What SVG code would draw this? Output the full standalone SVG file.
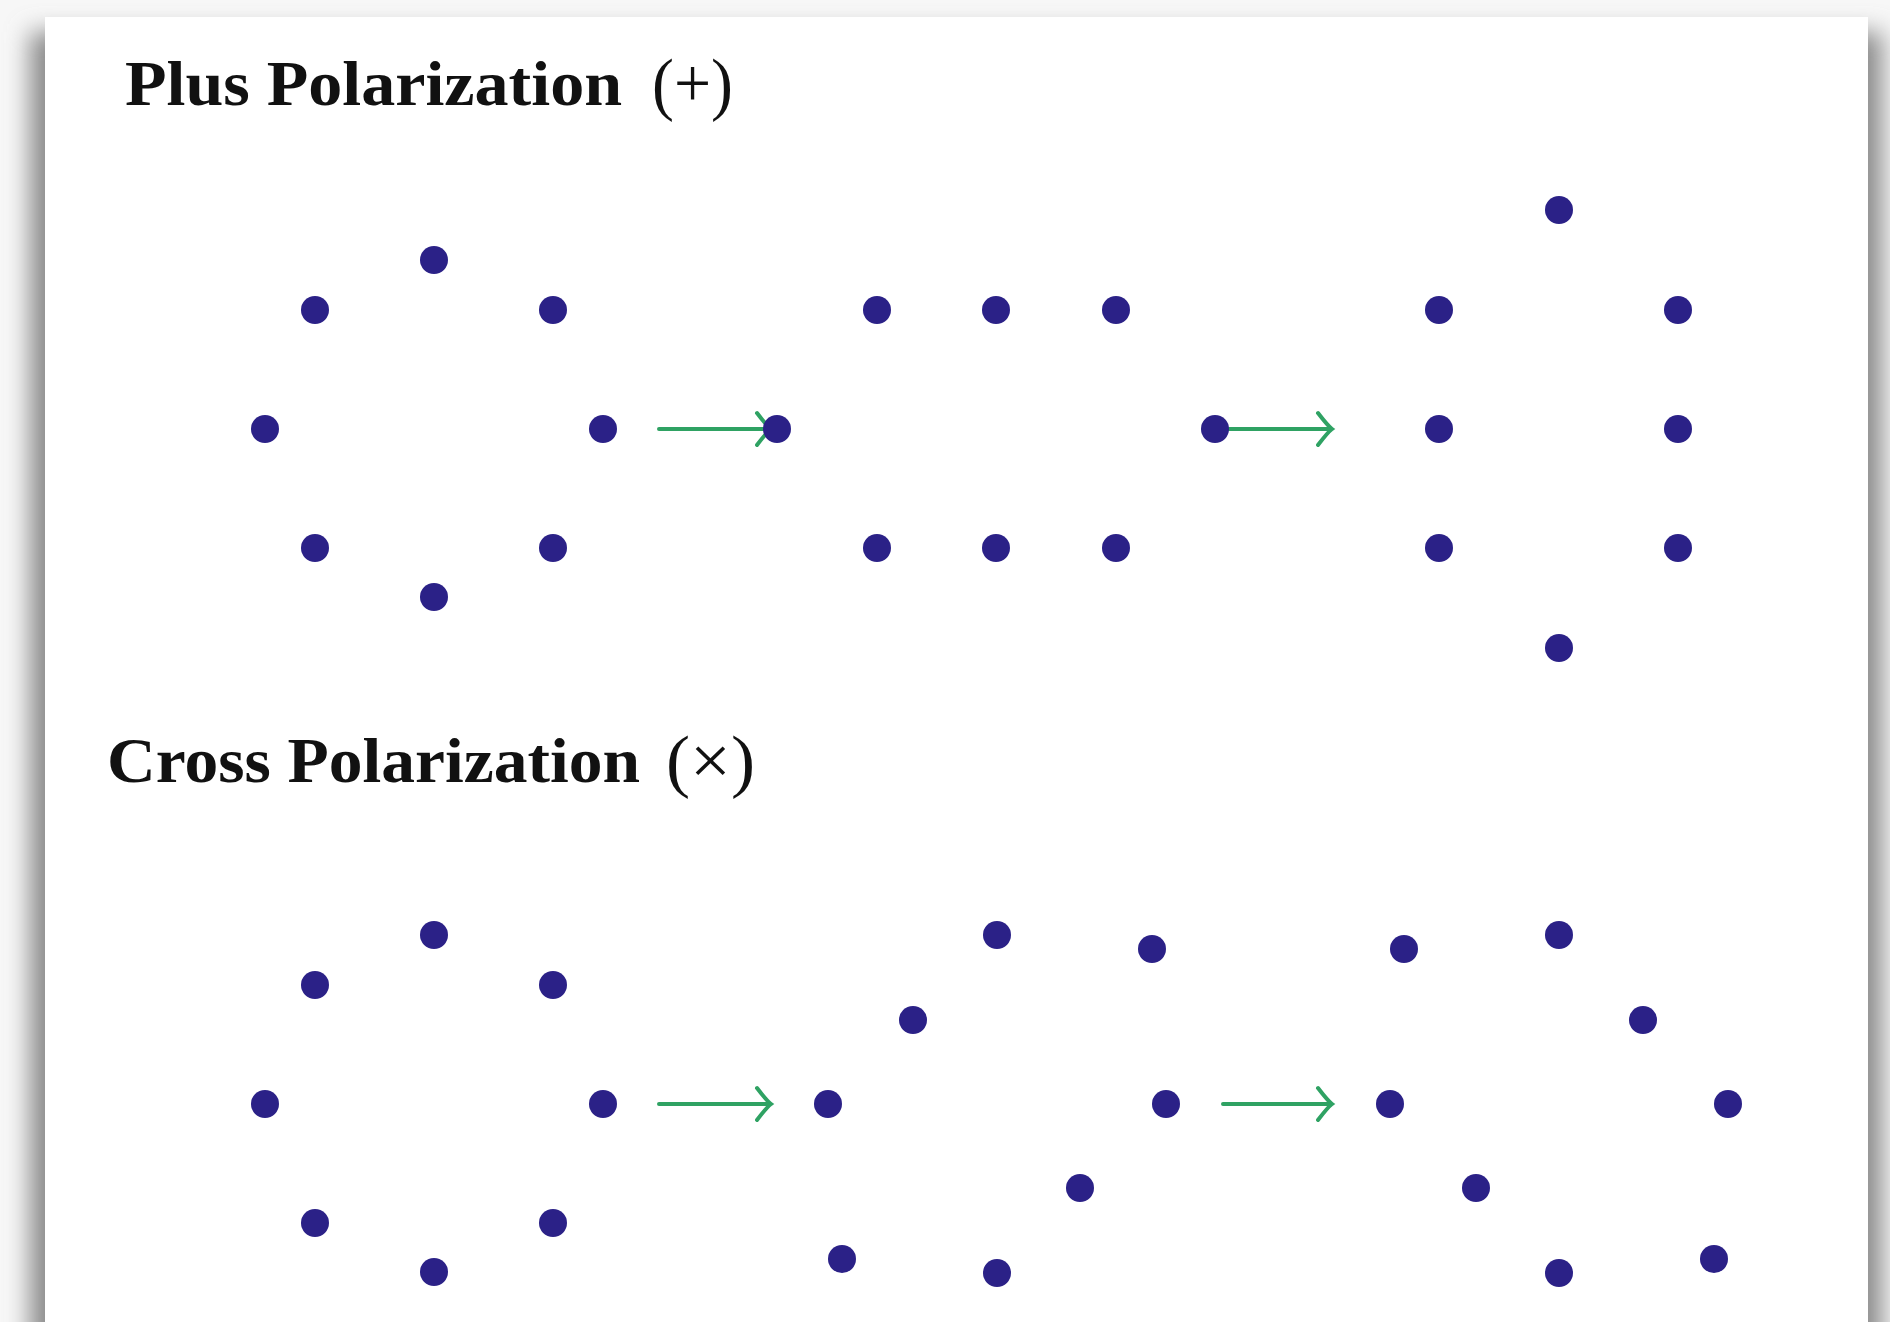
<svg xmlns="http://www.w3.org/2000/svg" width="1890" height="1322" viewBox="0 0 1890 1322">
<defs>
<filter id="shadow" x="-5%" y="-5%" width="110%" height="110%">
<feGaussianBlur stdDeviation="12"/>
</filter>
<style>
.dot{fill:#2b2187}
.arrow{fill:none;stroke:#2fa263;stroke-width:4;stroke-linecap:round}
.title{font-family:"Liberation Serif","Times New Roman",serif;font-weight:bold;font-size:64px;fill:#111}
.sym{font-family:"Liberation Serif","Times New Roman",serif;font-weight:normal;font-size:70px;fill:#111}
</style>
</defs>
<rect x="0" y="0" width="1890" height="1322" fill="#f7f7f7"/>
<rect x="30" y="32" width="1852" height="1380" fill="#8a8a8a" filter="url(#shadow)"/>
<rect x="45" y="17" width="1823" height="1320" fill="#ffffff"/>

<g id="titles">
<text class="title" x="125" y="105" textLength="497" lengthAdjust="spacingAndGlyphs">Plus Polarization</text>
<text class="sym" x="652" y="107" textLength="81" lengthAdjust="spacingAndGlyphs">(+)</text>
<text class="title" x="107" y="782" textLength="533" lengthAdjust="spacingAndGlyphs">Cross Polarization</text>
<text class="sym" x="666" y="784" textLength="89" lengthAdjust="spacingAndGlyphs">(×)</text>
</g>

<g id="connectors">
<g id="plus-arrow-1"><path class="arrow" d="M659 429 H771 M757 413 Q767 426 771 429 Q767 432 757 445"/></g>
<g id="plus-arrow-2"><path class="arrow" d="M1215 429 H1332 M1318 413 Q1328 426 1332 429 Q1328 432 1318 445"/></g>
<g id="cross-arrow-1"><path class="arrow" d="M659 1104 H771 M757 1088 Q767 1101 771 1104 Q767 1107 757 1120"/></g>
<g id="cross-arrow-2"><path class="arrow" d="M1223 1104 H1332 M1318 1088 Q1328 1101 1332 1104 Q1328 1107 1318 1120"/></g>
</g>

<g id="plus-ring-1">
<g id="p1-1"><circle class="dot" cx="434" cy="260" r="14"/></g>
<g id="p1-2"><circle class="dot" cx="315" cy="310" r="14"/></g>
<g id="p1-3"><circle class="dot" cx="553" cy="310" r="14"/></g>
<g id="p1-4"><circle class="dot" cx="265" cy="429" r="14"/></g>
<g id="p1-5"><circle class="dot" cx="603" cy="429" r="14"/></g>
<g id="p1-6"><circle class="dot" cx="315" cy="548" r="14"/></g>
<g id="p1-7"><circle class="dot" cx="553" cy="548" r="14"/></g>
<g id="p1-8"><circle class="dot" cx="434" cy="597" r="14"/></g>
</g>
<g id="plus-ring-2">
<g id="p2-1"><circle class="dot" cx="777" cy="429" r="14"/></g>
<g id="p2-2"><circle class="dot" cx="877" cy="310" r="14"/></g>
<g id="p2-3"><circle class="dot" cx="996" cy="310" r="14"/></g>
<g id="p2-4"><circle class="dot" cx="1116" cy="310" r="14"/></g>
<g id="p2-5"><circle class="dot" cx="1215" cy="429" r="14"/></g>
<g id="p2-6"><circle class="dot" cx="877" cy="548" r="14"/></g>
<g id="p2-7"><circle class="dot" cx="996" cy="548" r="14"/></g>
<g id="p2-8"><circle class="dot" cx="1116" cy="548" r="14"/></g>
</g>
<g id="plus-ring-3">
<g id="p3-1"><circle class="dot" cx="1559" cy="210" r="14"/></g>
<g id="p3-2"><circle class="dot" cx="1439" cy="310" r="14"/></g>
<g id="p3-3"><circle class="dot" cx="1678" cy="310" r="14"/></g>
<g id="p3-4"><circle class="dot" cx="1439" cy="429" r="14"/></g>
<g id="p3-5"><circle class="dot" cx="1678" cy="429" r="14"/></g>
<g id="p3-6"><circle class="dot" cx="1439" cy="548" r="14"/></g>
<g id="p3-7"><circle class="dot" cx="1678" cy="548" r="14"/></g>
<g id="p3-8"><circle class="dot" cx="1559" cy="648" r="14"/></g>
</g>

<g id="cross-ring-1">
<g id="c1-1"><circle class="dot" cx="434" cy="935" r="14"/></g>
<g id="c1-2"><circle class="dot" cx="315" cy="985" r="14"/></g>
<g id="c1-3"><circle class="dot" cx="553" cy="985" r="14"/></g>
<g id="c1-4"><circle class="dot" cx="265" cy="1104" r="14"/></g>
<g id="c1-5"><circle class="dot" cx="603" cy="1104" r="14"/></g>
<g id="c1-6"><circle class="dot" cx="315" cy="1223" r="14"/></g>
<g id="c1-7"><circle class="dot" cx="553" cy="1223" r="14"/></g>
<g id="c1-8"><circle class="dot" cx="434" cy="1272" r="14"/></g>
</g>
<g id="cross-ring-2">
<g id="c2-1"><circle class="dot" cx="997" cy="935" r="14"/></g>
<g id="c2-2"><circle class="dot" cx="1152" cy="949" r="14"/></g>
<g id="c2-3"><circle class="dot" cx="913" cy="1020" r="14"/></g>
<g id="c2-4"><circle class="dot" cx="828" cy="1104" r="14"/></g>
<g id="c2-5"><circle class="dot" cx="1166" cy="1104" r="14"/></g>
<g id="c2-6"><circle class="dot" cx="1080" cy="1188" r="14"/></g>
<g id="c2-7"><circle class="dot" cx="842" cy="1259" r="14"/></g>
<g id="c2-8"><circle class="dot" cx="997" cy="1273" r="14"/></g>
</g>
<g id="cross-ring-3">
<g id="c3-1"><circle class="dot" cx="1404" cy="949" r="14"/></g>
<g id="c3-2"><circle class="dot" cx="1559" cy="935" r="14"/></g>
<g id="c3-3"><circle class="dot" cx="1643" cy="1020" r="14"/></g>
<g id="c3-4"><circle class="dot" cx="1390" cy="1104" r="14"/></g>
<g id="c3-5"><circle class="dot" cx="1728" cy="1104" r="14"/></g>
<g id="c3-6"><circle class="dot" cx="1476" cy="1188" r="14"/></g>
<g id="c3-7"><circle class="dot" cx="1559" cy="1273" r="14"/></g>
<g id="c3-8"><circle class="dot" cx="1714" cy="1259" r="14"/></g>
</g>
</svg>
